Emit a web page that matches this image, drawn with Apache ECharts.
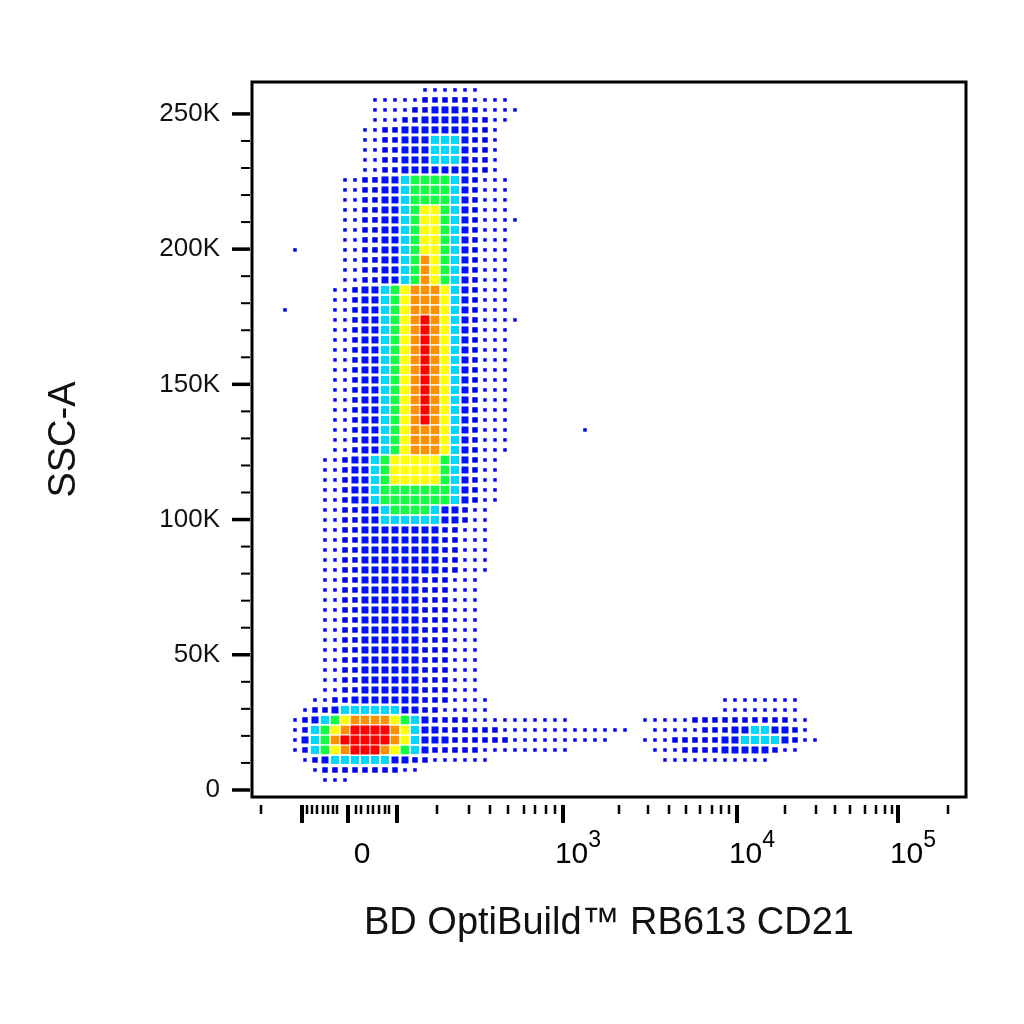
<!DOCTYPE html>
<html>
<head>
<meta charset="utf-8">
<script src="https://cdn.jsdelivr.net/npm/echarts@6/dist/echarts.min.js"></script>
<style>html,body{margin:0;background:#fff}#c{width:1024px;height:1024px}</style>
</head>
<body>
<div id="c"></div>
<script>
// Dot plot cytométrie : densité relevée sur une grille de cellules (10 px),
// axe X en unités d'affichage biexponentielles (0 = position du zéro).
const CELL_X0 = -77;          // abscisse (unités d'affichage) de la colonne 0
const CELL_W = 10;            // largeur d'une colonne
const ROW_PY0 = 90;           // ligne 0 mesurée en pixels de la référence
const K_PER_PX = 50000 / 135.2;

// [ligneDébut, ligneFin, niveau, colDébut, colFin]
const bandesDensite = [
  [0, 0, 1, 14, 19],
  [1, 3, 1, 9, 22], [1, 1, 2, 14, 18], [2, 2, 2, 13, 19], [2, 2, 3, 15, 17], [3, 3, 2, 12, 20], [3, 3, 3, 14, 18],
  [4, 8, 1, 8, 21], [4, 8, 2, 10, 20], [4, 8, 3, 12, 18], [5, 7, 4, 15, 17],
  [9, 19, 1, 6, 22], [9, 19, 2, 8, 19], [9, 19, 3, 10, 18], [9, 19, 4, 12, 17], [9, 19, 5, 13, 16], [12, 19, 6, 14, 15], [17, 19, 7, 14, 14],
  [20, 36, 1, 5, 22], [20, 36, 2, 7, 19], [20, 36, 3, 8, 18], [20, 36, 4, 10, 17], [20, 36, 5, 11, 16], [20, 36, 6, 12, 16], [20, 36, 7, 13, 15], [23, 33, 8, 14, 14],
  [37, 41, 1, 4, 21], [37, 41, 2, 6, 19], [37, 41, 3, 7, 18], [37, 41, 4, 9, 17], [37, 41, 5, 10, 16], [37, 39, 6, 11, 15],
  [42, 43, 1, 4, 20], [42, 43, 2, 6, 18], [42, 43, 3, 8, 17], [42, 43, 4, 10, 15], [42, 42, 5, 11, 14],
  [44, 48, 1, 4, 20], [44, 48, 2, 6, 17], [44, 48, 3, 8, 15],
  [49, 60, 1, 4, 19], [49, 60, 2, 6, 16], [49, 60, 3, 8, 13],
  [61, 61, 1, 3, 20], [61, 61, 2, 5, 16], [61, 61, 3, 7, 13],
  [62, 62, 1, 2, 20], [62, 62, 2, 3, 15], [62, 62, 3, 5, 13], [62, 62, 4, 6, 11],
  [63, 63, 1, 1, 28], [63, 63, 2, 2, 18], [63, 63, 3, 3, 14], [63, 63, 4, 4, 13], [63, 63, 5, 5, 12], [63, 63, 6, 6, 11], [63, 63, 7, 7, 10],
  [64, 64, 1, 1, 34], [64, 64, 2, 2, 21], [64, 64, 3, 3, 15], [64, 64, 4, 3, 13], [64, 64, 5, 4, 12], [64, 64, 6, 5, 12], [64, 64, 7, 6, 11], [64, 64, 8, 7, 10],
  [65, 65, 1, 1, 32], [65, 65, 2, 2, 22], [65, 65, 3, 2, 16], [65, 65, 4, 3, 13], [65, 65, 5, 4, 12], [65, 65, 6, 5, 12], [65, 65, 7, 5, 11], [65, 65, 8, 6, 10],
  [66, 66, 1, 1, 28], [66, 66, 2, 2, 19], [66, 66, 3, 3, 14], [66, 66, 4, 3, 13], [66, 66, 5, 4, 12], [66, 66, 6, 5, 11], [66, 66, 7, 6, 10], [66, 66, 8, 7, 9],
  [67, 67, 1, 2, 20], [67, 67, 2, 3, 14], [67, 67, 3, 4, 12], [67, 67, 4, 5, 10],
  [68, 68, 1, 3, 13], [68, 68, 2, 4, 11], [69, 69, 1, 4, 6],
  // population CD21+ à droite
  [61, 62, 1, 44, 51],
  [63, 63, 1, 36, 52], [63, 63, 2, 41, 50],
  [64, 64, 1, 37, 52], [64, 64, 2, 42, 51], [64, 64, 3, 45, 50], [64, 64, 4, 47, 48],
  [65, 65, 1, 36, 53], [65, 65, 2, 39, 51], [65, 65, 3, 44, 50], [65, 65, 4, 46, 49],
  [66, 66, 1, 37, 51], [66, 66, 2, 40, 49], [66, 66, 3, 44, 48],
  [67, 67, 1, 38, 48],
  // points isolés
  [16, 16, 1, 1, 1], [22, 22, 1, 0, 0], [34, 34, 1, 30, 30], [2, 2, 1, 23, 23], [13, 13, 1, 23, 23], [23, 23, 1, 23, 23]
];

const couleursNiveau = ["", "#0000ff", "#0000f0", "#0010ff", "#00d8ff", "#10ff40", "#ffff00", "#ff9000", "#ff0000"];
const taillesNiveau = [0, 3.5, 5.5, 7, 8, 8.5, 8.5, 8.5, 9];

const yTicksMajeurs = [0, 50000, 100000, 150000, 200000, 250000];
const yTicksMineurs = [10000, 20000, 30000, 40000, 60000, 70000, 80000, 90000, 110000, 120000, 130000, 140000,
  160000, 170000, 180000, 190000, 210000, 220000, 230000, 240000];
const xTicksMajeurs = [-60, -14, 35, 201, 375, 536];
const xTicksMineurs = [-101, -55, -50, -45, -39, -34, -29, -25, -6, -1, 6, 11, 17, 23, 27,
  75, 107, 128, 146, 162, 173, 184, 193, 257, 286, 307, 324, 338, 350, 359, 367,
  423, 454, 473, 488, 503, 514, 523, 530, 586];
const xLabels = [[0, "0"], [201, "10", "3"], [375, "10", "4"], [536, "10", "5"]];

// grille : niveau max par cellule
const grille = {};
bandesDensite.forEach(([r0, r1, niv, c0, c1]) => {
  for (let r = r0; r <= r1; r++) for (let c = c0; c <= c1; c++) {
    const k = r + "," + c;
    if (!grille[k] || grille[k] < niv) grille[k] = niv;
  }
});
const points = Object.keys(grille).map(k => {
  const [r, c] = k.split(",").map(Number);
  const niv = grille[k];
  return { value: [CELL_X0 + c * CELL_W, (790 - (ROW_PY0 + r * 10)) * K_PER_PX, niv], niv };
}).sort((a, b) => a.niv - b.niv);

const police = "'Liberation Sans', Arial, sans-serif";

const chart = echarts.init(document.getElementById("c"));
chart.setOption({
  animation: false,
  grid: { left: 252, right: 58, top: 82, bottom: 227, show: true, borderColor: "#000", borderWidth: 3 },
  xAxis: {
    type: "value", min: -110, max: 604,
    axisLine: { show: false }, axisTick: { show: false }, splitLine: { show: false },
    axisLabel: { show: false },
    name: "BD OptiBuild™ RB613 CD21", nameLocation: "middle", nameGap: 108,
    nameTextStyle: { fontFamily: police, fontSize: 38, color: "#111" }
  },
  yAxis: {
    type: "value", min: -2600, max: 261800,
    axisLine: { show: false }, axisTick: { show: false }, splitLine: { show: false },
    axisLabel: {
      customValues: yTicksMajeurs, margin: 32, fontFamily: police, fontSize: 26, color: "#111",
      formatter: v => v === 0 ? "0" : v / 1000 + "K"
    },
    name: "SSC-A", nameLocation: "middle", nameGap: 168,
    nameTextStyle: { fontFamily: police, fontSize: 38, color: "#111" }
  },
  series: [
    {
      type: "scatter", symbol: "rect", data: points,
      symbolSize: (v) => taillesNiveau[v[2]],
      itemStyle: { color: (p) => couleursNiveau[p.data.value[2]], opacity: 1 }
    },
    {
      type: "custom", clip: false, silent: true,
      data: xTicksMajeurs.map(v => [v, 1]).concat(xTicksMineurs.map(v => [v, 0])),
      renderItem: (params, api) => {
        const p = api.coord([api.value(0), -2600]);
        const len = api.value(1) ? 18 : 9;
        return { type: "line", shape: { x1: p[0], y1: p[1] + 8, x2: p[0], y2: p[1] + 8 + len },
          style: { stroke: "#000", lineWidth: api.value(1) ? 4 : 2.5 } };
      }
    },
    {
      type: "custom", clip: false, silent: true,
      data: yTicksMajeurs.map(v => [v, 1]).concat(yTicksMineurs.map(v => [v, 0])),
      renderItem: (params, api) => {
        const p = api.coord([-110, api.value(0)]);
        const len = api.value(1) ? 18 : 9;
        return { type: "line", shape: { x1: p[0] - 2, y1: p[1], x2: p[0] - 2 - len, y2: p[1] },
          style: { stroke: "#000", lineWidth: api.value(1) ? 3.5 : 2 } };
      }
    },
    {
      type: "custom", clip: false, silent: true,
      data: xLabels.map(l => [l[0], 0]),
      renderItem: (params, api) => {
        const l = xLabels[params.dataIndex];
        const p = api.coord([api.value(0), -2600]);
        const txt = l[2] ? "{b|" + l[1] + "}{s|" + l[2] + "}" : "{b|" + l[1] + "}";
        return { type: "text", x: p[0] + (l[2] ? 15 : 0), y: p[1] + 58,
          style: { text: txt, align: "center", verticalAlign: "middle",
            rich: { b: { fontFamily: police, fontSize: 30, color: "#111" },
                    s: { fontFamily: police, fontSize: 23, color: "#111", padding: [0, 0, 28, 0] } } } };
      }
    }
  ]
});
</script>
</body>
</html>
